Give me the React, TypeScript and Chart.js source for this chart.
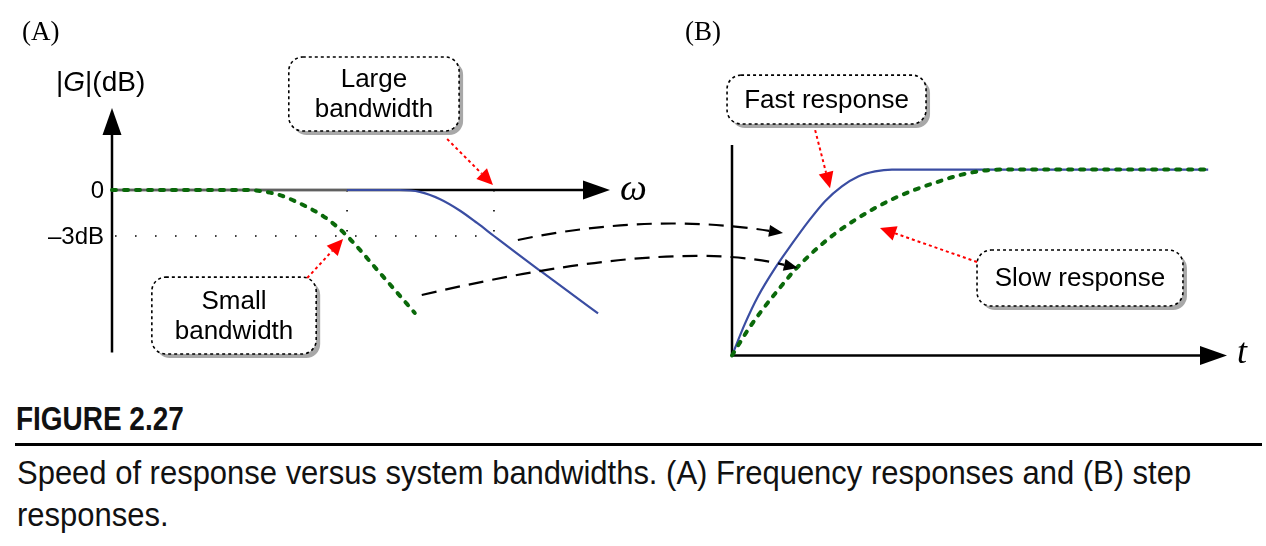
import React, { useEffect, useRef } from "react";
import { Chart, registerables } from "chart.js";

Chart.register(...registerables);

// ---------------- Data ----------------
// Panel (A): frequency responses, ω (arbitrary units) vs |G| (dB)
const omegaSmallBW = [0, 2.75, 3.05, 3.37, 3.84, 4.24, 4.54, 4.72, 4.98, 5.24, 5.58, 6.08];
const gainSmallBW = [0, 0, -0.1, -0.33, -0.98, -1.7, -2.45, -3.0, -3.91, -4.89, -6.15, -8.02];
const omegaLargeBW = [0, 4.72, 5.78, 6.18, 6.59, 6.99, 7.33, 7.67, 8.13, 8.59, 9.14, 9.76];
const gainLargeBW = [0, 0, 0, -0.12, -0.6, -1.35, -2.15, -3.0, -4.14, -5.25, -6.56, -8.05];
const gainTickValues = [0, -3];
const gainTickLabels = ["0", "\u20133dB"];
const bandwidthOmegas = [4.72, 7.67];
const cutoffGain = -3;

// Panel (B): step responses, t (arbitrary units) vs output
const tFast = [0, 0.26, 0.53, 0.87, 1.21, 1.54, 1.88, 2.22, 2.55, 2.89, 3.23, 9.62];
const stepFast = [0, 0.17, 0.32, 0.47, 0.6, 0.72, 0.83, 0.91, 0.963, 0.99, 1.0, 1.0];
const tSlow = [0, 0.32, 0.61, 0.93, 1.27, 1.68, 2.08, 2.48, 2.89, 3.29, 3.7, 4.16, 4.57, 5.05, 5.45, 9.62];
const stepSlow = [0, 0.137, 0.245, 0.352, 0.46, 0.567, 0.655, 0.728, 0.793, 0.847, 0.892, 0.934, 0.968, 0.993, 1.0, 1.0];

// Axis ranges
const omegaRange = [0, 10];
const gainRange = [-10.6, 5.35];
const timeRange = [0, 10];
const stepRange = [0, 1.132];

// Callouts (box corners, arrow start and tip in the panel's own data units)
const callouts = [
  { panel: "A", lines: ["Large", "bandwidth"], box: [3.55, 8.68, 6.97, 3.85], from: [6.73, 3.33], tip: [7.65, 0.33] },
  { panel: "A", lines: ["Small", "bandwidth"], box: [0.8, -5.68, 4.1, -10.7], from: [3.92, -5.74], tip: [4.64, -3.2] },
  { panel: "B", lines: ["Fast response"], box: [-0.1, 1.508, 3.92, 1.245], from: [1.68, 1.212], tip: [1.98, 0.9] },
  { panel: "B", lines: ["Slow response"], box: [4.95, 0.567, 9.11, 0.266], from: [4.95, 0.503], tip: [2.99, 0.685] },
];
// Dashed links from panel A (ω, dB) to panel B (t, y); control = fraction along chord + normal bulge (px)
const links = [
  { from: [8.15, -3.26], to: [1.03, 0.659], along: 0.5, bulge: 24 },
  { from: [6.22, -6.85], to: [1.33, 0.47], along: 0.667, bulge: 40 },
];

const captionTitle = "FIGURE 2.27";
const captionLine1 = "Speed of response versus system bandwidths. (A) Frequency responses and (B) step";
const captionLine2 = "responses.";

// ---------------- Layout / style ----------------
const PANEL_A = { left: 112, right: 610, top: 108, bottom: 352.5 };
const PANEL_B = { left: 732, right: 1227, top: 145, bottom: 355.5 };
const BLUE = "#3a4da2";
const GREEN = "#0a690a";
const GREY = "#606060";
const RED = "#ff0000";
const SANS = '"Liberation Sans", Arial, Helvetica, sans-serif';
const SERIF = '"Liberation Serif", "Times New Roman", serif';

type Pt = { x: number; y: number };

function toPx(chart: any, panel: string, x: number, y: number): Pt {
  return {
    x: chart.scales["x" + panel].getPixelForValue(x),
    y: chart.scales["y" + panel].getPixelForValue(y),
  };
}

function place(scale: any, r: { left: number; right: number; top: number; bottom: number }) {
  scale.left = r.left;
  scale.right = r.right;
  scale.top = r.top;
  scale.bottom = r.bottom;
  scale.width = r.right - r.left;
  scale.height = r.bottom - r.top;
  scale.configure();
}

function arrowHead(ctx: CanvasRenderingContext2D, from: Pt, tip: Pt, len: number, half: number, color: string): Pt {
  const a = Math.atan2(tip.y - from.y, tip.x - from.x);
  const bx = tip.x - len * Math.cos(a);
  const by = tip.y - len * Math.sin(a);
  ctx.save();
  ctx.setLineDash([]);
  ctx.beginPath();
  ctx.moveTo(tip.x, tip.y);
  ctx.lineTo(bx + half * Math.sin(a), by - half * Math.cos(a));
  ctx.lineTo(bx - half * Math.sin(a), by + half * Math.cos(a));
  ctx.closePath();
  ctx.fillStyle = color;
  ctx.fill();
  ctx.restore();
  return { x: bx, y: by };
}

function rrect(ctx: CanvasRenderingContext2D, x: number, y: number, w: number, h: number, r: number) {
  ctx.beginPath();
  ctx.moveTo(x + r, y);
  ctx.lineTo(x + w - r, y);
  ctx.arcTo(x + w, y, x + w, y + r, r);
  ctx.lineTo(x + w, y + h - r);
  ctx.arcTo(x + w, y + h, x + w - r, y + h, r);
  ctx.lineTo(x + r, y + h);
  ctx.arcTo(x, y + h, x, y + h - r, r);
  ctx.lineTo(x, y + r);
  ctx.arcTo(x, y, x + r, y, r);
  ctx.closePath();
}

function axisArrow(ctx: CanvasRenderingContext2D, a: Pt, b: Pt, head: boolean) {
  ctx.save();
  ctx.strokeStyle = "#000";
  ctx.lineWidth = 2.5;
  ctx.setLineDash([]);
  let end = b;
  if (head) end = arrowHead(ctx, a, b, 27, 9.5, "#000");
  ctx.beginPath();
  ctx.moveTo(a.x, a.y);
  ctx.lineTo(end.x + (head ? (b.x - a.x) * 0.002 : 0), end.y + (head ? (b.y - a.y) * 0.002 : 0));
  ctx.stroke();
  ctx.restore();
}

const panelPlugin = {
  id: "panels",
  afterLayout(chart: any) {
    place(chart.scales.xA, PANEL_A);
    place(chart.scales.yA, PANEL_A);
    place(chart.scales.xB, PANEL_B);
    place(chart.scales.yB, PANEL_B);
  },
  beforeDatasetsDraw(chart: any) {
    const ctx: CanvasRenderingContext2D = chart.ctx;
    // Panel A axes
    axisArrow(ctx, toPx(chart, "A", 0, gainRange[0]), toPx(chart, "A", 0, gainRange[1]), true);
    axisArrow(ctx, toPx(chart, "A", 0, 0), toPx(chart, "A", omegaRange[1], 0), true);
    // Panel B axes
    axisArrow(ctx, toPx(chart, "B", 0, 0), toPx(chart, "B", 0, stepRange[1]), false);
    axisArrow(ctx, toPx(chart, "B", 0, 0), toPx(chart, "B", timeRange[1], 0), true);

    // dotted -3 dB guide lines
    ctx.save();
    ctx.strokeStyle = "#000";
    ctx.lineWidth = 1.6;
    ctx.setLineDash([1.6, 18.4]);
    const h0 = toPx(chart, "A", 0.06, cutoffGain);
    const h1 = toPx(chart, "A", bandwidthOmegas[1] + 0.02, cutoffGain);
    ctx.beginPath();
    ctx.moveTo(h0.x, h0.y);
    ctx.lineTo(h1.x, h1.y);
    ctx.stroke();
    bandwidthOmegas.forEach((w) => {
      const v0 = toPx(chart, "A", w, 0);
      const v1 = toPx(chart, "A", w, cutoffGain);
      ctx.beginPath();
      ctx.moveTo(v0.x, v0.y);
      ctx.lineTo(v1.x, v1.y + 1);
      ctx.stroke();
    });
    ctx.restore();
  },
  afterDatasetsDraw(chart: any) {
    const ctx: CanvasRenderingContext2D = chart.ctx;
    ctx.save();
    ctx.fillStyle = "#000";

    // Panel tags
    ctx.font = `27px ${SERIF}`;
    ctx.textAlign = "left";
    ctx.textBaseline = "alphabetic";
    ctx.fillText("(A)", 22, 40);
    ctx.fillText("(B)", 685, 40);

    // |G|(dB) axis title
    ctx.font = `28px ${SANS}`;
    let x = 56;
    const yT = 91;
    ctx.fillText("|", x, yT);
    x += ctx.measureText("|").width;
    ctx.font = `italic 28px ${SANS}`;
    ctx.fillText("G", x, yT);
    x += ctx.measureText("G").width;
    ctx.font = `28px ${SANS}`;
    ctx.fillText("|(dB)", x, yT);

    // gain tick labels
    ctx.font = `24px ${SANS}`;
    ctx.textAlign = "right";
    ctx.textBaseline = "middle";
    gainTickValues.forEach((v, i) => {
      const p = toPx(chart, "A", 0, v);
      ctx.fillText(gainTickLabels[i], p.x - 8, p.y + 1);
    });

    // axis symbols
    ctx.textAlign = "left";
    ctx.textBaseline = "alphabetic";
    ctx.font = `italic 38px ${SERIF}`;
    const wEnd = toPx(chart, "A", omegaRange[1], 0);
    ctx.fillText("\u03c9", wEnd.x + 10, wEnd.y + 10);
    ctx.font = `italic 36px ${SERIF}`;
    const tEnd = toPx(chart, "B", timeRange[1], 0);
    ctx.fillText("t", tEnd.x + 10, tEnd.y + 7);

    // dashed links between panels
    links.forEach((l) => {
      const p0 = toPx(chart, "A", l.from[0], l.from[1]);
      const p2 = toPx(chart, "B", l.to[0], l.to[1]);
      const dx = p2.x - p0.x;
      const dy = p2.y - p0.y;
      const len = Math.hypot(dx, dy);
      const nx = dy / len;
      const ny = -dx / len;
      const c = { x: p0.x + dx * l.along + nx * l.bulge, y: p0.y + dy * l.along + ny * l.bulge };
      const base = arrowHead(ctx, c, p2, 14, 6, "#000");
      ctx.save();
      ctx.strokeStyle = "#000";
      ctx.lineWidth = 2.2;
      ctx.setLineDash([15, 9]);
      ctx.beginPath();
      ctx.moveTo(p0.x, p0.y);
      ctx.quadraticCurveTo(c.x, c.y, base.x, base.y);
      ctx.stroke();
      ctx.restore();
    });

    // callout boxes with red dotted arrows
    callouts.forEach((co) => {
      const a = toPx(chart, co.panel, co.box[0], co.box[1]);
      const b = toPx(chart, co.panel, co.box[2], co.box[3]);
      const bx = Math.min(a.x, b.x);
      const by = Math.min(a.y, b.y);
      const bw = Math.abs(b.x - a.x);
      const bh = Math.abs(b.y - a.y);
      ctx.save();
      ctx.fillStyle = "#a8a8a8";
      rrect(ctx, bx + 4, by + 4, bw, bh, 14);
      ctx.fill();
      ctx.fillStyle = "#fff";
      rrect(ctx, bx, by, bw, bh, 14);
      ctx.fill();
      ctx.strokeStyle = "#000";
      ctx.lineWidth = 1.6;
      ctx.setLineDash([3, 3]);
      ctx.stroke();
      ctx.setLineDash([]);
      ctx.fillStyle = "#000";
      ctx.font = `26px ${SANS}`;
      ctx.textAlign = "center";
      ctx.textBaseline = "middle";
      const cx = bx + bw / 2;
      const cy = by + bh / 2;
      const n = co.lines.length;
      co.lines.forEach((t, i) => {
        ctx.fillText(t, cx, cy + (i - (n - 1) / 2) * 30 + 1);
      });

      const s = toPx(chart, co.panel, co.from[0], co.from[1]);
      const tip = toPx(chart, co.panel, co.tip[0], co.tip[1]);
      const hb = arrowHead(ctx, s, tip, 16, 7.5, RED);
      ctx.strokeStyle = RED;
      ctx.lineWidth = 2;
      ctx.setLineDash([3, 3]);
      ctx.beginPath();
      ctx.moveTo(s.x, s.y);
      ctx.lineTo(hb.x, hb.y);
      ctx.stroke();
      ctx.restore();
    });
    ctx.restore();
  },
};

const xy = (xs: number[], ys: number[]) => xs.map((x, i) => ({ x, y: ys[i] }));

export default function App() {
  const canvasRef = useRef<HTMLCanvasElement | null>(null);

  useEffect(() => {
    const canvas = canvasRef.current;
    if (!canvas) return;
    const common = {
      pointRadius: 0,
      pointHoverRadius: 0,
      cubicInterpolationMode: "monotone" as const,
      clip: false as any,
      fill: false,
    };
    const chart = new Chart(canvas, {
      type: "line",
      data: {
        datasets: [
          {
            ...common,
            label: "Small bandwidth",
            data: xy(omegaSmallBW, gainSmallBW),
            xAxisID: "xA",
            yAxisID: "yA",
            borderColor: GREEN,
            borderWidth: 4,
            borderDash: [4, 8],
            borderCapStyle: "round",
            order: 0,
          },
          {
            ...common,
            label: "Large bandwidth",
            data: xy(omegaLargeBW, gainLargeBW),
            xAxisID: "xA",
            yAxisID: "yA",
            borderColor: BLUE,
            borderWidth: 2.2,
            order: 1,
            segment: {
              borderColor: (c: any) => (c.p1DataIndex <= 1 ? GREY : undefined),
            },
          },
          {
            ...common,
            label: "Slow response",
            data: xy(tSlow, stepSlow),
            xAxisID: "xB",
            yAxisID: "yB",
            borderColor: GREEN,
            borderWidth: 4,
            borderDash: [4, 8],
            borderCapStyle: "round",
            order: 0,
          },
          {
            ...common,
            label: "Fast response",
            data: xy(tFast, stepFast),
            xAxisID: "xB",
            yAxisID: "yB",
            borderColor: BLUE,
            borderWidth: 2.2,
            order: 1,
          },
        ] as any,
      },
      options: {
        animation: false,
        responsive: true,
        maintainAspectRatio: false,
        events: [],
        layout: { padding: 0 },
        plugins: { legend: { display: false }, tooltip: { enabled: false } },
        scales: {
          xA: { type: "linear", display: false, position: "bottom", min: omegaRange[0], max: omegaRange[1] },
          yA: { type: "linear", display: false, position: "left", min: gainRange[0], max: gainRange[1] },
          xB: { type: "linear", display: false, position: "bottom", min: timeRange[0], max: timeRange[1] },
          yB: { type: "linear", display: false, position: "left", min: stepRange[0], max: stepRange[1] },
        },
      } as any,
      plugins: [panelPlugin as any],
    });
    return () => chart.destroy();
  }, []);

  const textBase: React.CSSProperties = {
    position: "absolute",
    whiteSpace: "nowrap",
    transformOrigin: "left top",
    color: "#111",
  };

  return (
    <div style={{ position: "fixed", left: 0, top: 0, width: 1266, height: 546, background: "#fff", overflow: "hidden" }}>
      <div style={{ position: "absolute", left: 0, top: 0, width: 1266, height: 390 }}>
        <canvas ref={canvasRef} />
      </div>
      <div
        style={{
          ...textBase,
          left: 16,
          top: 403,
          font: `bold 32.5px ${SANS}`,
          lineHeight: "32.5px",
          transform: "scaleX(0.86)",
        }}
      >
        {captionTitle}
      </div>
      <div style={{ position: "absolute", left: 15, top: 443, width: 1247, height: 2.5, background: "#000" }} />
      <div
        style={{
          ...textBase,
          left: 17,
          top: 455,
          font: `34px ${SANS}`,
          lineHeight: "34px",
          transform: "scaleX(0.911)",
        }}
      >
        {captionLine1}
      </div>
      <div
        style={{
          ...textBase,
          left: 17,
          top: 497,
          font: `34px ${SANS}`,
          lineHeight: "34px",
          transform: "scaleX(0.911)",
        }}
      >
        {captionLine2}
      </div>
    </div>
  );
}
